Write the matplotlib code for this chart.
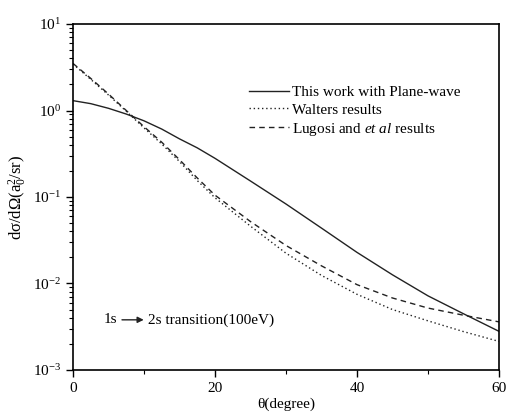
import matplotlib.pyplot as plt
import numpy as np
from matplotlib.ticker import LogLocator, MultipleLocator, NullFormatter

plt.rcParams['font.family'] = ['Liberation Serif', 'DejaVu Sans']
plt.rcParams['mathtext.fontset'] = 'custom'
plt.rcParams['mathtext.rm'] = 'Liberation Serif'
plt.rcParams['mathtext.it'] = 'Liberation Serif:italic'

# angle (degree)
theta = [0, 2.5, 5, 7.5, 10, 12.5, 15, 17.5, 20, 25, 30, 35, 40, 45, 50, 55, 60]

# this work, plane-wave
plane_wave = [1.30, 1.20, 1.06, 0.91, 0.76, 0.61, 0.47, 0.37, 0.28, 0.153, 0.083,
              0.0437, 0.0229, 0.0126, 0.0072, 0.00447, 0.0028]
# Walters
walters = [3.45, 2.29, 1.51, 0.98, 0.63, 0.41, 0.257, 0.155, 0.098, 0.046, 0.0224,
           0.0124, 0.0075, 0.0050, 0.0037, 0.00278, 0.00214]
# Lugosi et al
lugosi = [3.5, 2.35, 1.55, 1.0, 0.65, 0.43, 0.27, 0.166, 0.105, 0.052, 0.0275,
          0.0160, 0.0097, 0.0068, 0.0052, 0.0043, 0.0036]

fig = plt.figure(figsize=(5.08, 4.16), dpi=100)
ax = fig.add_axes([0.1437, 0.1106, 0.8385, 0.8317])

ax.plot(theta, plane_wave, color="#222222", lw=1.0, label="This work with Plane-wave")
ax.plot(theta, walters, color="#222222", lw=1.0, linestyle=(0, (1, 2)), label="Walters results")
ax.plot(theta, lugosi, color="#222222", lw=1.0, linestyle=(0, (4, 3)),
        label="Lugosi and $\\mathit{et\\ al}$ results")

ax.set_yscale("log")
ax.set_xlim(0, 60)
ax.set_ylim(1e-3, 1e1)
ax.xaxis.set_major_locator(MultipleLocator(20))
ax.xaxis.set_minor_locator(MultipleLocator(10))
ax.yaxis.set_minor_locator(LogLocator(base=10, subs=np.arange(2, 10)))
ax.yaxis.set_minor_formatter(NullFormatter())
ax.tick_params(which="major", direction="out", length=5, width=1.0, labelsize=11)
ax.tick_params(which="minor", direction="out", length=3, width=0.8)
for s in ax.spines.values():
    s.set_linewidth(1.2)

ax.set_xlabel("θ(degree)", fontsize=11, labelpad=2)
ax.set_ylabel("dσ/dΩ(a$_0^2$/sr)", fontsize=12, labelpad=3)

# transition note with a drawn arrow
ax.text(0.071, 0.145, "1s", transform=ax.transAxes, fontsize=11, va="center", ha="left")
ax.annotate("", xy=(0.166, 0.145), xytext=(0.115, 0.145),
            xycoords=ax.transAxes, textcoords=ax.transAxes,
            arrowprops=dict(arrowstyle="-|>", color="#222222", lw=1.0,
                            mutation_scale=9, shrinkA=0, shrinkB=0))
ax.text(0.176, 0.145, "2s transition(100eV)", transform=ax.transAxes,
        fontsize=11, va="center", ha="left")

leg = ax.legend(loc="upper left", bbox_to_anchor=(0.4, 0.84), frameon=False,
                fontsize=11, handlelength=2.6, handletextpad=0.2, labelspacing=0.25,
                borderaxespad=0)

fig.savefig("out.png", dpi=100)
